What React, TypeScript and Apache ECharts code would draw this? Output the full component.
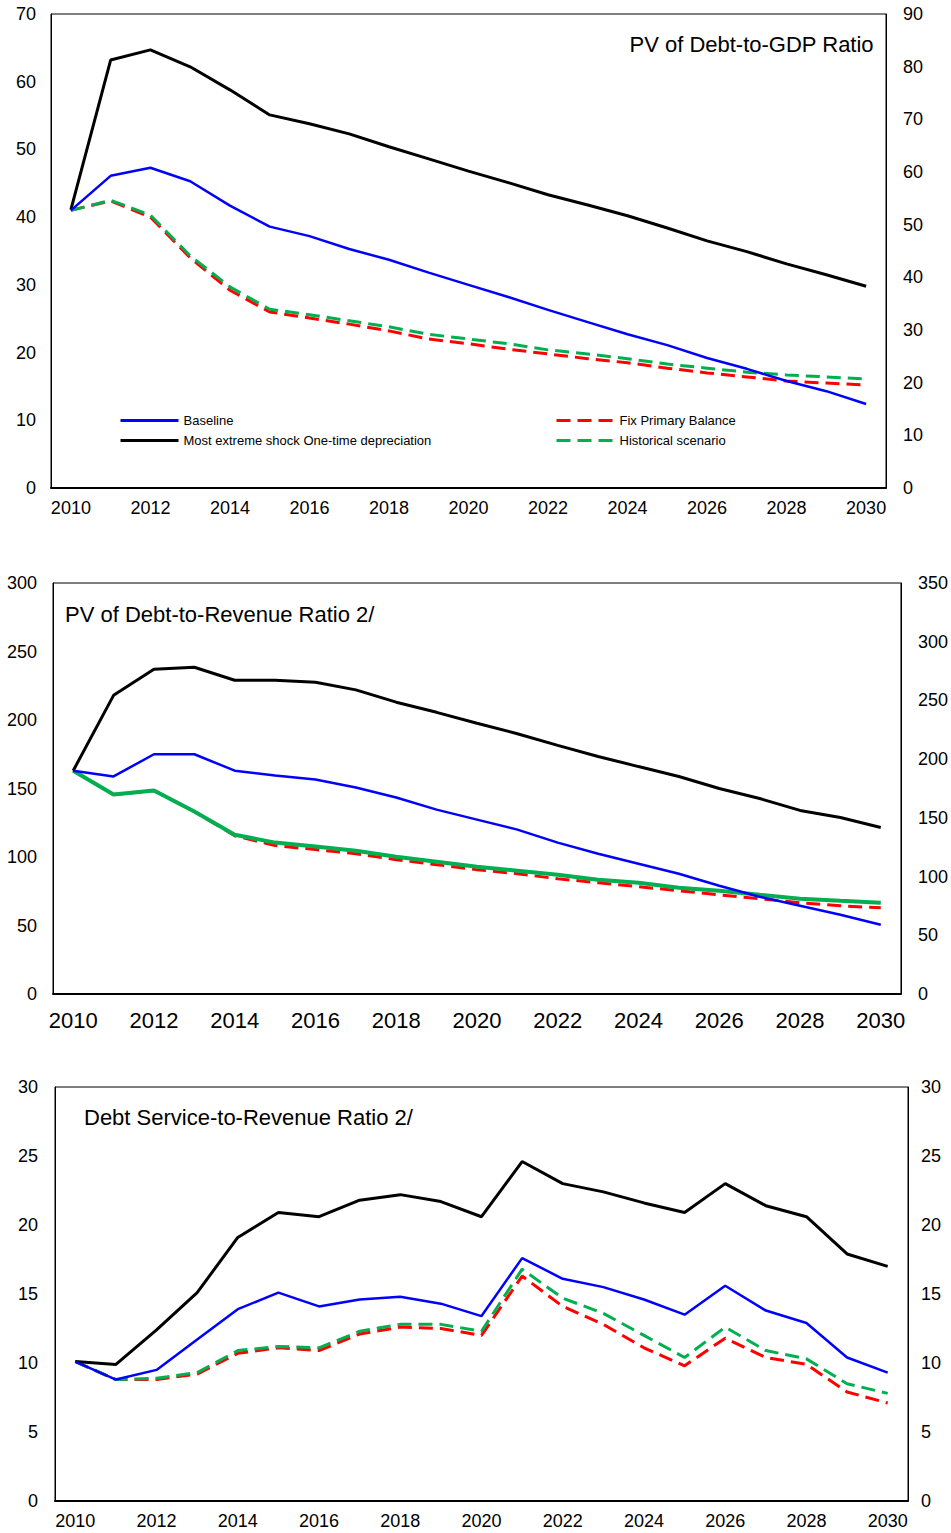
import React, { useEffect, useRef } from "react";
import * as echarts from "echarts";

const years = ["2010","2011","2012","2013","2014","2015","2016","2017","2018","2019","2020","2021","2022","2023","2024","2025","2026","2027","2028","2029","2030"];

// Panel 1: PV of Debt-to-GDP Ratio
const gdpBaseline = [41.0,46.1,47.3,45.3,41.7,38.6,37.2,35.3,33.7,31.8,30.0,28.2,26.3,24.5,22.7,21.1,19.2,17.6,15.8,14.3,12.4];
const gdpShock = [41.1,63.2,64.7,62.2,58.8,55.1,53.8,52.3,50.4,48.6,46.8,45.1,43.3,41.8,40.2,38.4,36.5,34.9,33.1,31.5,29.8];
const gdpFixPB = [41.0,42.4,40.0,34.0,29.2,26.0,25.1,24.2,23.2,22.0,21.3,20.5,19.8,19.1,18.5,17.7,17.0,16.4,15.8,15.5,15.2];
const gdpHist = [41.0,42.5,40.3,34.3,29.7,26.4,25.6,24.7,23.8,22.7,22.0,21.3,20.4,19.8,19.1,18.3,17.7,17.1,16.7,16.4,16.1];

// Panel 2: PV of Debt-to-Revenue Ratio
const revBaseline = [163,158.8,175,175,163,159.5,156.6,150.7,143.4,134.6,127.3,120,110.5,102.4,95.1,87.8,79,71,64.4,57.8,50.5];
const revShock = [163,218,237,238.5,229,229,227.5,222,213,205.6,197.6,190,181.5,173.4,166,158.8,150,142.7,134,128.8,121.5];
const revFixPB = [163,145.6,148.5,133.2,115.5,108.3,105.4,102.4,98,94.4,90.7,87.8,84.1,81.2,78.3,75.4,72.4,69.5,66.6,64.4,62.9];
const revHist = [163,145.6,148.5,133.2,116.3,110.5,107.6,104.6,100.2,96.6,92.9,90,87.1,83.4,81.2,77.6,75.4,72.4,69.5,68,66.6];

// Panel 3: Debt Service-to-Revenue Ratio
const dsBaseline = [10.1,8.8,9.5,11.7,13.9,15.1,14.1,14.6,14.8,14.3,13.4,17.6,16.1,15.5,14.6,13.5,15.6,13.8,12.9,10.4,9.3];
const dsShock = [10.1,9.9,12.4,15.1,19.1,20.9,20.6,21.8,22.2,21.7,20.6,24.6,23.0,22.4,21.6,20.9,23.0,21.4,20.6,17.9,17.0];
const dsFixPB = [10.1,8.8,8.8,9.2,10.7,11.1,10.9,12.1,12.6,12.5,12.0,16.3,14.1,12.8,11.1,9.8,11.8,10.4,9.9,7.9,7.1];
const dsHist = [10.1,8.8,8.9,9.3,10.9,11.2,11.1,12.3,12.8,12.8,12.3,16.8,14.7,13.6,12.0,10.4,12.6,10.9,10.3,8.5,7.8];

const titles = ["PV of Debt-to-GDP Ratio", "PV of Debt-to-Revenue Ratio 2/", "Debt Service-to-Revenue Ratio 2/"];
const names = ["Baseline", "Most extreme shock One-time depreciation", "Fix Primary Balance", "Historical scenario"];

const leftAxes = [
  { max: 70, interval: 10 },
  { max: 300, interval: 50 },
  { max: 30, interval: 5 },
];
const rightAxes = [
  { max: 90, interval: 10 },
  { max: 350, interval: 50 },
  { max: 30, interval: 5 },
];

const FONT = "'Liberation Sans', Arial, sans-serif";
const BLUE = "#0000FF";
const BLACK = "#000000";
const RED = "#FF0000";
const GREEN = "#00B050";

export default function App() {
  const ref = useRef<HTMLDivElement>(null);

  useEffect(() => {
    if (!ref.current) return;
    const chart = echarts.init(ref.current, null, { renderer: "svg" });

    const grids = [
      { left: 51, top: 14, width: 835, height: 474 },
      { left: 53, top: 583, width: 848, height: 411 },
      { left: 55, top: 1087, width: 853, height: 414 },
    ];
    const xLabelSize = [18, 22, 18];
    const xLabelMargin = [11, 15, 11];
    const yLeftMargin = [15, 16, 17];
    const yRightMargin = [17, 17, 13];

    const xAxis: any[] = grids.map((_, i) => ({
      type: "category",
      gridIndex: i,
      data: years,
      boundaryGap: true,
      axisLine: { show: true, lineStyle: { color: "#000", width: 2 } },
      axisTick: { show: false },
      axisLabel: {
        interval: 1,
        color: "#000",
        fontFamily: FONT,
        fontSize: xLabelSize[i],
        margin: xLabelMargin[i],
      },
      splitLine: { show: false },
    }));

    const yAxis: any[] = [];
    grids.forEach((_, i) => {
      yAxis.push({
        type: "value",
        gridIndex: i,
        position: "left",
        min: 0,
        max: leftAxes[i].max,
        interval: leftAxes[i].interval,
        axisLine: { show: true, lineStyle: { color: "#000", width: 1 } },
        axisTick: { show: false },
        splitLine: { show: false },
        axisLabel: { color: "#000", fontFamily: FONT, fontSize: 18, margin: yLeftMargin[i] },
      });
      yAxis.push({
        type: "value",
        gridIndex: i,
        position: "right",
        min: 0,
        max: rightAxes[i].max,
        interval: rightAxes[i].interval,
        axisLine: { show: true, lineStyle: { color: "#000", width: 1 } },
        axisTick: { show: false },
        splitLine: { show: false },
        axisLabel: { color: "#000", fontFamily: FONT, fontSize: 18, margin: yRightMargin[i] },
      });
    });

    const panels = [
      [gdpBaseline, gdpShock, gdpFixPB, gdpHist],
      [revBaseline, revShock, revFixPB, revHist],
      [dsBaseline, dsShock, dsFixPB, dsHist],
    ];

    const series: any[] = [];
    panels.forEach((p, i) => {
      const common = { type: "line", xAxisIndex: i, yAxisIndex: i * 2, symbol: "none", showSymbol: false, z: 3 };
      series.push({
        ...common,
        name: names[2],
        data: p[2],
        lineStyle: { color: RED, width: 3, type: [14, 7] },
        itemStyle: { color: RED },
      });
      series.push({
        ...common,
        name: names[3],
        data: p[3],
        lineStyle: { color: GREEN, width: i === 1 ? 4 : 3, type: i === 1 ? "solid" : [14, 7] },
        itemStyle: { color: GREEN },
      });
      series.push({
        ...common,
        name: names[1],
        data: p[1],
        lineStyle: { color: BLACK, width: 3 },
        itemStyle: { color: BLACK },
      });
      series.push({
        ...common,
        name: names[0],
        data: p[0],
        lineStyle: { color: BLUE, width: 2.5 },
        itemStyle: { color: BLUE },
      });
    });

    const legendText = { color: "#000", fontFamily: FONT, fontSize: 13 };
    const legendCommon = {
      orient: "vertical",
      top: 414,
      padding: 0,
      itemWidth: 58,
      itemHeight: 12,
      itemGap: 7,
      textStyle: legendText,
      selectedMode: false,
      itemStyle: { opacity: 0 },
      lineStyle: { width: 3 },
    };

    chart.setOption({
      animation: false,
      backgroundColor: "#fff",
      grid: grids.map((g) => ({ ...g, show: true, borderColor: "#000", borderWidth: 1, containLabel: false })),
      title: [
        {
          text: titles[0],
          right: 77,
          top: 33,
          padding: 0,
          textStyle: { color: "#000", fontFamily: FONT, fontSize: 22, fontWeight: "normal" },
        },
        {
          text: titles[1],
          left: 65,
          top: 603,
          padding: 0,
          textStyle: { color: "#000", fontFamily: FONT, fontSize: 22, fontWeight: "normal" },
        },
        {
          text: titles[2],
          left: 84,
          top: 1106,
          padding: 0,
          textStyle: { color: "#000", fontFamily: FONT, fontSize: 22, fontWeight: "normal" },
        },
      ],
      legend: [
        { ...legendCommon, data: [names[0], names[1]], left: 119 },
        { ...legendCommon, data: [names[2], names[3]], left: 555 },
      ],
      xAxis,
      yAxis,
      series,
    });

    return () => {
      chart.dispose();
    };
  }, []);

  return (
    <div
      ref={ref}
      style={{ position: "absolute", left: 0, top: 0, width: 951, height: 1533, background: "#fff" }}
    />
  );
}
